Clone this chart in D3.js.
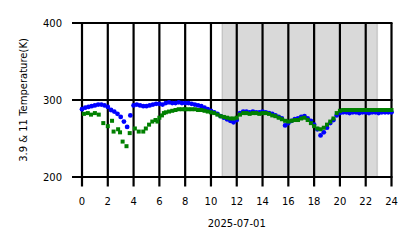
<!DOCTYPE html>
<html><head><meta charset="utf-8">
<script src="https://cdn.jsdelivr.net/npm/d3@7"></script>
<style>html,body{margin:0;padding:0;background:#fff;}svg{display:block;font-family:"DejaVu Sans",sans-serif;}</style>
</head><body>
<script>
// x tick labels (hours)
const xTicks = [0,2,4,6,8,10,12,14,16,18,20,22,24];
const yTicks = [200,300,400];
const xLabel = "2025-07-01";
const yLabel = "3.9 & 11 Temperature(K)";
// night shading (hours)
const shadeSpan = [10.87, 22.9];

// 3.9 um brightness temperature, every 0.25 h from 0 to 24
const blueStep = 0.25;
const blueValues = [
 288,290,291,292,293,294,294,293,291,287,285,282,278,272,265,280,
 293,294,293,292,292,293,294,295,295,294,296,297,296,296,297,296,
 296,296,295,294,293,292,290,288,286,284,282,279,277,275,273,271,
 274,283,285,285,284,285,284,284,285,284,283,282,280,278,276,267,
 270,273,275,276,278,279,276,273,268,262,254,258,264,270,274,280,
 283,284,284,283,284,284,283,284,284,283,284,284,283,284,284,284,
 284
];

// 11 um: sparse early samples [hour, K]
const greenSparse = [
 [0.15,282],[0.45,283],[0.7,281],[1.0,283],[1.3,281],[1.65,270],[2.0,266],
 [2.33,273],[2.45,259],[2.8,262],[2.95,258],[3.15,246],[3.45,240],[3.7,257],
 [4.1,263],[4.4,259],[4.75,259],[4.95,263],[5.2,268],[5.45,272],[5.7,274],
 [5.85,272],[6.0,277],[6.2,280],[6.35,283]
];
// 11 um: dense samples every 0.25 h from 6.5 to 24
const greenStart = 6.5;
const greenStep = 0.25;
const greenValues = [
 284,285,286,287,288,288,288,288,288,288,287,287,286,285,284,283,
 281,279,278,277,276,276,277,281,283,283,282,283,283,282,283,283,
 282,280,279,277,275,273,272,273,274,274,276,277,274,270,266,263,
 262,264,268,272,276,283,286,287,287,287,287,287,287,287,287,287,
 287,287,287,287,287,287,287
];

const W = 418, H = 248;
const svg = d3.select("body").append("svg").attr("width", W).attr("height", H);

const x = d3.scaleLinear().domain([0,24]).range([82, 391.5]);
const y = d3.scaleLinear().domain([200,400]).range([177, 23]);

// shading
svg.append("rect")
  .attr("x", x(shadeSpan[0])).attr("y", y(400))
  .attr("width", x(shadeSpan[1]) - x(shadeSpan[0]))
  .attr("height", y(200) - y(400))
  .attr("fill", "grey").attr("fill-opacity", 0.3)
  .attr("stroke", "grey").attr("stroke-opacity", 0.3).attr("stroke-width", 1.5);

// grid (lines double as ticks)
const g = svg.append("g");
g.selectAll("line.v").data(xTicks).join("line")
  .attr("x1", d => x(d)).attr("x2", d => x(d))
  .attr("y1", y(400)).attr("y2", y(200) + 9.5)
  .attr("stroke", "#000").attr("stroke-width", 2.2);
g.selectAll("line.h").data(yTicks).join("line")
  .attr("y1", d => y(d)).attr("y2", d => y(d))
  .attr("x1", x(0) - 10).attr("x2", x(24) + 1)
  .attr("stroke", "#000").attr("stroke-width", 2.2);

// tick labels
svg.selectAll("text.xt").data(xTicks).join("text")
  .attr("x", d => x(d)).attr("y", 201.5).attr("dy", "0.35em")
  .attr("text-anchor", "middle").attr("font-size", 10).attr("fill", "#000")
  .text(d => d);
svg.selectAll("text.yt").data(yTicks).join("text")
  .attr("x", 62).attr("y", d => y(d)).attr("dy", "0.35em")
  .attr("text-anchor", "end").attr("font-size", 10).attr("fill", "#000")
  .text(d => d);
svg.append("text").attr("x", (x(0)+x(24))/2).attr("y", 223).attr("dy","0.35em")
  .attr("text-anchor","middle").attr("font-size",10).text(xLabel);
svg.append("text").attr("transform", `translate(23,${(y(200)+y(400))/2}) rotate(-90)`)
  .attr("dy","0.35em").attr("text-anchor","middle").attr("font-size",10).text(yLabel);

// data
const blueData = blueValues.map((v,i) => [i*blueStep, v]);
const greenData = greenSparse.concat(greenValues.map((v,i) => [greenStart + i*greenStep, v]));

svg.append("g").selectAll("circle").data(blueData).join("circle")
  .attr("cx", d => x(d[0])).attr("cy", d => y(d[1])).attr("r", 2.4)
  .attr("fill", "#0000ff");
const s = 4;
svg.append("g").selectAll("rect").data(greenData).join("rect")
  .attr("x", d => x(d[0]) - s/2).attr("y", d => y(d[1]) - s/2)
  .attr("width", s).attr("height", s).attr("fill", "#008000");
</script>
</body></html>
